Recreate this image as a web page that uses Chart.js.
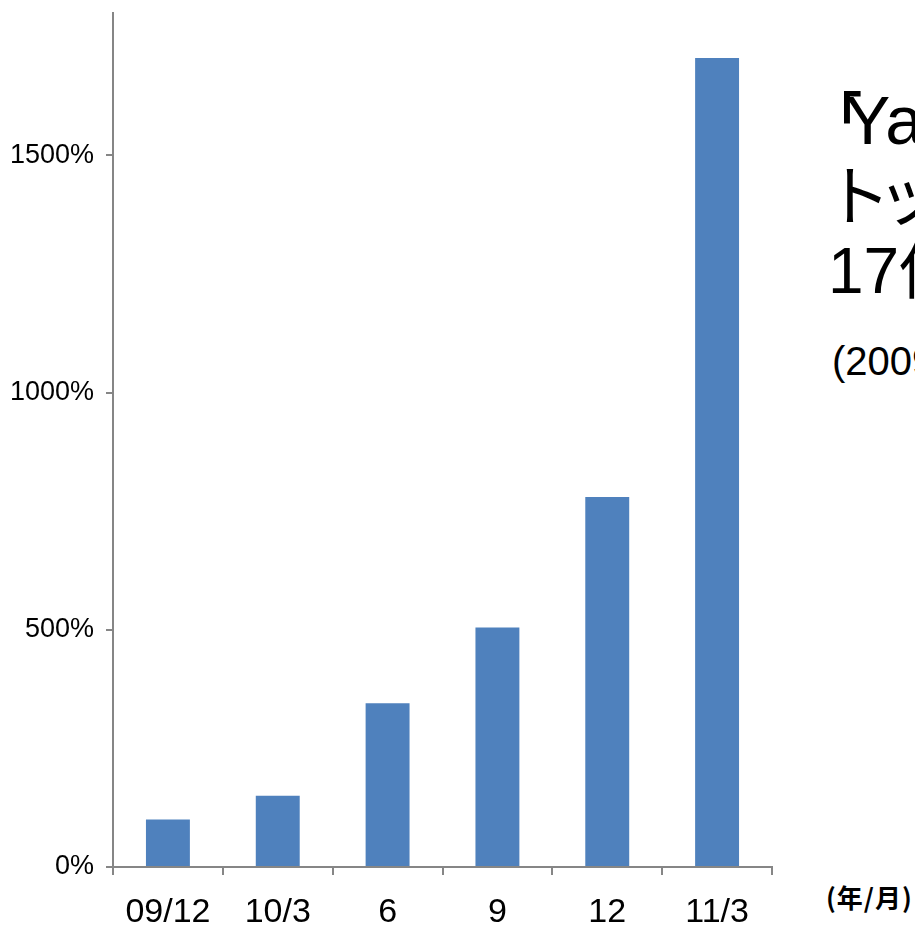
<!DOCTYPE html>
<html><head><meta charset="utf-8">
<script src="https://cdn.jsdelivr.net/npm/chart.js@4"></script>
<style>
html,body{margin:0;padding:0;background:#fff;overflow:hidden;width:915px;height:927px;}
#wrap{position:absolute;left:0;top:0;width:800px;height:927px;}
.t{position:absolute;white-space:nowrap;line-height:1;font-family:"Liberation Sans","Noto Sans CJK JP",sans-serif;color:#000;}
.j{font-family:"Noto Sans CJK JP",sans-serif;}
</style></head><body>
<div id="wrap"><canvas id="c"></canvas></div>
<div class="t j" style="left:812px;top:87px;font-size:50px;font-weight:bold;">「</div>
<div class="t" style="left:845px;top:86px;font-size:68px;">Yahoo!知恵袋」</div>
<div class="t j" style="left:825px;top:158px;font-size:66px;letter-spacing:-14px;">トップページからの</div>
<div class="t" style="left:828px;top:239px;font-size:64px;">17倍に</div>
<div class="t" style="left:832px;top:341px;font-size:40px;">(2009年12月比)</div>
<div class="t j" style="left:826px;top:884px;font-size:26px;font-weight:bold;letter-spacing:1px;">(年/月)</div>
<script>
const categories = ["09/12","10/3","6","9","12","11/3"];
const values = [100,150,345,505,780,1705];
const yTicks = [0,500,1000,1500];

const axisColor = "#868686";
const noPad = s => { s.paddingTop = 0; s.paddingBottom = 0; s.paddingLeft = 0; s.paddingRight = 0; };
new Chart(document.getElementById("c"), {
  type: "bar",
  data: { labels: categories, datasets: [{ data: values, backgroundColor: "#4F81BD", borderWidth: 0, barPercentage: 0.8, categoryPercentage: 0.5 }] },
  options: {
    responsive: true, maintainAspectRatio: false, animation: false,
    layout: { padding: { top: 13, right: 28, left: 0, bottom: 0 } },
    plugins: { legend: { display: false }, tooltip: { enabled: false } },
    scales: {
      x: {
        grid: { drawOnChartArea: false, drawTicks: true, tickLength: 8, color: axisColor, lineWidth: 2, offset: true },
        border: { color: axisColor, width: 2 },
        ticks: { color: "#000", font: { family: "Liberation Sans", size: 34 }, padding: 17, maxRotation: 0 },
        afterFit: s => { s.height = 60; noPad(s); }
      },
      y: {
        min: 0, max: 1800,
        afterBuildTicks: s => { s.ticks = yTicks.map(v => ({ value: v })); },
        grid: { drawOnChartArea: false, drawTicks: true, tickLength: 7, color: axisColor, lineWidth: 2 },
        border: { color: axisColor, width: 2 },
        ticks: { color: "#000", font: { family: "Liberation Sans", size: 27 }, padding: 12, callback: v => v + "%" },
        afterFit: s => { s.width = 113; noPad(s); }
      }
    }
  }
});
</script>
</body></html>
